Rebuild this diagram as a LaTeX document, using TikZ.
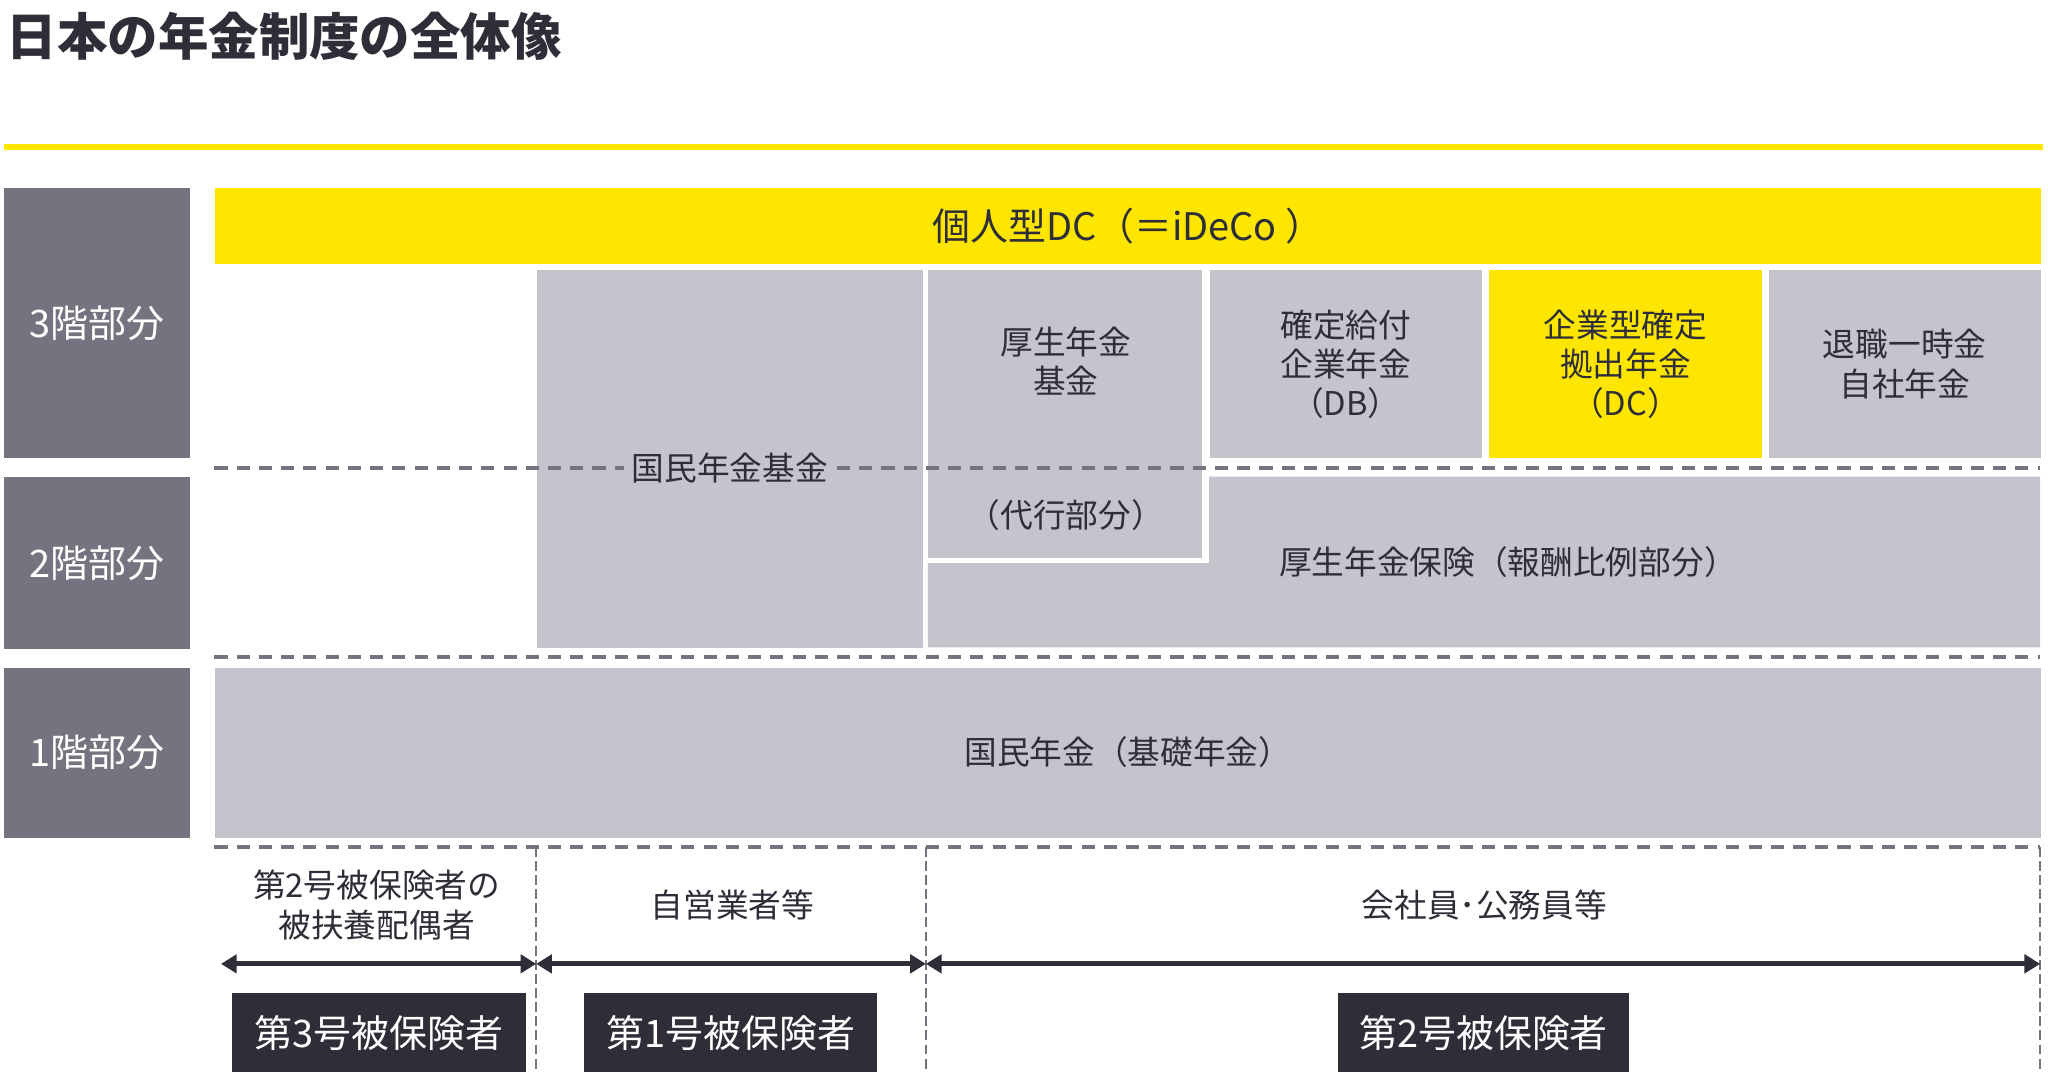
\documentclass[tikz,border=0pt]{standalone}
\usepackage{fontspec}
\setmainfont{Noto Sans CJK JP}
\usetikzlibrary{arrows.meta}
\definecolor{ey_dark}{HTML}{2E2E38}
\definecolor{ey_gray}{HTML}{747480}
\definecolor{ey_light}{HTML}{C4C4CD}
\definecolor{ey_yellow}{HTML}{FFE600}
\tikzstyle{floor_box} = [
    rectangle, 
    fill=ey_gray, 
    text=white, 
    font=\fontsize{14.5}{17}\selectfont, 
    anchor=north west, 
    inner sep=0pt, 
    minimum width=71pt
]
\tikzstyle{plan_box} = [
    rectangle, 
    fill=ey_light, 
    text=ey_dark, 
    font=\fontsize{12.5}{15}\selectfont, 
    align=center, 
    anchor=north west, 
    inner sep=0pt
]
\tikzstyle{group_box} = [
    rectangle, 
    fill=ey_dark, 
    text=white, 
    font=\fontsize{14.5}{17}\selectfont, 
    anchor=north west, 
    inner sep=0pt, 
    minimum height=30.25pt
]
\tikzstyle{plan_text} = [
    text=ey_dark, 
    font=\fontsize{12.5}{15}\selectfont, 
    align=center, 
    inner sep=1pt
]
\tikzstyle{floor_line} = [
    draw=ey_gray, 
    line width=1.5pt, 
    dash pattern=on 5pt off 3.5pt
]
\tikzstyle{group_line} = [
    draw=ey_gray, 
    line width=0.6pt, 
    dash pattern=on 3.8pt off 1.6pt
]
\tikzstyle{span_arrow} = [
    draw=ey_dark, 
    line width=2pt, 
    {Triangle[length=6pt,width=7pt]}-{Triangle[length=6pt,width=7pt]}
]

\begin{document}
\begin{tikzpicture}[x=0.5pt, y=-0.5pt] 
\useasboundingbox (0,0) rectangle (1566,825);
% title
\node [anchor=west, text=ey_dark, font=\fontsize{19.3}{22}\selectfont\bfseries] (title) at (-2,28) {日本の年金制度の全体像};
\coordinate (rule_l) at (3,112.5);
\coordinate (rule_r) at (1562,112.5);
\draw [ey_yellow, line width=2.5pt] (rule_l) -- (rule_r);

% floors
\node [floor_box, minimum height=103.5pt] (floor3) at (3,143) {3階部分};
\node [floor_box, minimum height=65.5pt] (floor2) at (3,364.5) {2階部分};
\node [floor_box, minimum height=65pt] (floor1) at (3,510) {1階部分};

% plans
\node [plan_box, fill=ey_yellow, font=\fontsize{14.5}{17}\selectfont, minimum width=698pt, minimum height=29.25pt] (ideco) at (164,143) {個人型DC（＝iDeCo ）};
\node [plan_box, minimum width=147.75pt, minimum height=144.5pt] (kikin) at (410,206) {};
\node [plan_box, minimum width=104.75pt, minimum height=110pt] (kosei_kikin) at (709.5,206) {};
\node [plan_box, minimum width=104.25pt, minimum height=72pt] (db) at (924.5,206) {確定給付\\企業年金\\（DB）};
\node [plan_box, fill=ey_yellow, minimum width=104.5pt, minimum height=72pt] (dc) at (1138,206) {企業型確定\\拠出年金\\（DC）};
\node [plan_box, minimum width=104pt, minimum height=72pt] (taishoku) at (1352,206) {退職一時金\\自社年金};
\fill [ey_light] (709.5,430.5) -- (924.5,430.5) -- (924.5,364.5) -- (1560,364.5) -- (1560,495) -- (709.5,495) -- cycle;
\node [plan_box, minimum width=698pt, minimum height=65pt] (kiso) at (164,510) {国民年金（基礎年金）};

% floor lines
\foreach \y/\name in {357.5/a, 502.5/b, 647.5/c} {
    \coordinate (\name_l) at (164,\y);
    \coordinate (\name_r) at (1560,\y);
    \draw [floor_line] (\name_l) -- (\name_r);
}

\node [plan_text, fill=ey_light, inner sep=3pt] (kikin_text) at (558,357.5) {国民年金基金};
\node [plan_text] (kosei_kikin_text) at (815,276) {厚生年金\\基金};
\node [plan_text] (daiko_text) at (815,394) {（代行部分）};
\node [plan_text] (kosei_text) at (1153,430) {厚生年金保険（報酬比例部分）};

% insured groups
\foreach \x/\name in {410/g1, 708/g2, 1560/g3} {
    \coordinate (\name_t) at (\x,647.5);
    \coordinate (\name_b) at (\x,820);
    \draw [group_line] (\name_t) -- (\name_b);
}
\coordinate (s0) at (169,737);
\coordinate (s1) at (410,737);
\coordinate (s2) at (708,737);
\coordinate (s3) at (1560,737);
\draw [span_arrow] (s0) -- (s1);
\draw [span_arrow] (s1) -- (s2);
\draw [span_arrow] (s2) -- (s3);

\node [plan_text] (spouse) at (288,692) {第2号被保険者の\\被扶養配偶者};
\node [plan_text] (self) at (560,692) {自営業者等};
\node [plan_text] (employee) at (1135,692) {会社員･公務員等};

\node [group_box, minimum width=112.25pt] (no3) at (177,759) {第3号被保険者};
\node [group_box, minimum width=112pt] (no1) at (446.5,759) {第1号被保険者};
\node [group_box, minimum width=111.5pt] (no2) at (1022.5,759) {第2号被保険者};
\end{tikzpicture}
\end{document}
